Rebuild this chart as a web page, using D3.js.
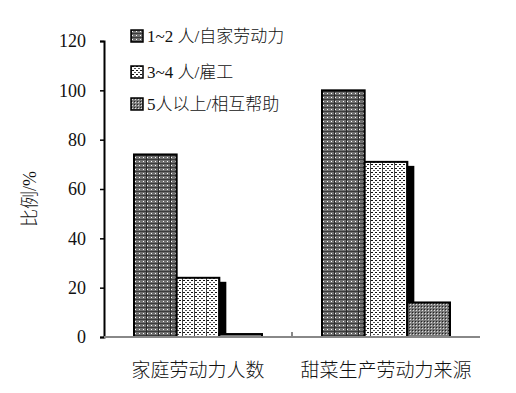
<!DOCTYPE html>
<html>
<head>
<meta charset="utf-8">
<script src="https://cdn.jsdelivr.net/npm/d3@7"></script>
<style>
  body { margin: 0; background: #fff; }
</style>
</head>
<body>
<svg width="516" height="393"></svg>
<script>
// data
var categories = ["家庭劳动力人数", "甜菜生产劳动力来源"];
var seriesNames = ["1~2 人/自家劳动力", "3~4 人/雇工", "5人以上/相互帮助"];
var seriesA = [74, 100];   // 1~2人
var seriesB = [24, 71];    // 3~4人
var seriesC = [1.2, 14];   // 5人以上
var yTicks = [0, 20, 40, 60, 80, 100, 120];

var svg = d3.select("svg");
var margin = { top: 41, left: 104, right: 36, bottom: 56 };
var W = 516, H = 393;
var serif = "'Liberation Serif', 'Noto Sans CJK SC', serif";

var x0 = d3.scaleBand().domain(categories).range([margin.left, W - margin.right]);
var groupW = 128;
var x1 = d3.scaleBand().domain(d3.range(3)).range([0, groupW]);
var y = d3.scaleLinear().domain([0, 120]).range([H - margin.bottom, margin.top]);

var rows = categories.map(function (c, i) {
  return { cat: c, vals: [seriesA[i], seriesB[i], seriesC[i]] };
});

//// patterns
var defs = svg.append("defs");
var p1 = defs.append("pattern").attr("id", "pat0").attr("patternUnits", "userSpaceOnUse")
  .attr("width", 12).attr("height", 4);
p1.append("rect").attr("width", 12).attr("height", 4).attr("fill", "#6f6f6f");
[1, 5, 9].forEach(function (d) {
  p1.append("rect").attr("x", d).attr("y", 1).attr("width", 1).attr("height", 1).attr("fill", "#fff");
});
p1.append("rect").attr("x", 0).attr("y", 3).attr("width", 12).attr("height", 1).attr("fill", "#3a3a3a");
p1.append("rect").attr("x", 0).attr("y", 0).attr("width", 1).attr("height", 4).attr("fill", "#2a2a2a");

var p2 = defs.append("pattern").attr("id", "pat1").attr("patternUnits", "userSpaceOnUse")
  .attr("width", 12).attr("height", 4);
p2.append("rect").attr("width", 12).attr("height", 4).attr("fill", "#fff");
[1, 5, 9].forEach(function (d) {
  p2.append("rect").attr("x", d).attr("y", 0).attr("width", 2).attr("height", 1).attr("fill", "#111");
});
[3, 7].forEach(function (d) {
  p2.append("rect").attr("x", d).attr("y", 2).attr("width", 2).attr("height", 1).attr("fill", "#555");
});
p2.append("rect").attr("x", 0).attr("y", 0).attr("width", 1).attr("height", 4).attr("fill", "#444");

var p3 = defs.append("pattern").attr("id", "pat2").attr("patternUnits", "userSpaceOnUse")
  .attr("width", 3).attr("height", 3);
p3.append("rect").attr("width", 3).attr("height", 3).attr("fill", "#7a7a7a");
p3.append("rect").attr("x", 1).attr("y", 1).attr("width", 1).attr("height", 1).attr("fill", "#ddd");
p3.append("rect").attr("x", 0).attr("y", 0).attr("width", 1).attr("height", 1).attr("fill", "#222");

//// bars
var groups = svg.selectAll("g.grp").data(rows).enter().append("g")
  .attr("class", "grp")
  .attr("transform", function (d) {
    return "translate(" + (x0(d.cat) + (x0.bandwidth() - groupW) / 2) + ",0)";
  });

// black shadow behind the 3~4 bars
groups.append("rect")
  .attr("x", x1(1) + 4)
  .attr("y", function (d) { return y(d.vals[1]) + 4; })
  .attr("width", x1.bandwidth() + 3)
  .attr("height", function (d) { return y(0) - y(d.vals[1]) - 4; })
  .attr("fill", "#000");

groups.selectAll("rect.bar")
  .data(function (d) { return d.vals.map(function (v, i) { return { i: i, v: v }; }); })
  .enter().append("rect")
  .attr("class", "bar")
  .attr("x", function (d) { return x1(d.i); })
  .attr("y", function (d) { return y(d.v); })
  .attr("width", x1.bandwidth())
  .attr("height", function (d) { return y(0) - y(d.v); })
  .attr("fill", function (d) { return "url(#pat" + d.i + ")"; })
  .attr("stroke", "#000")
  .attr("stroke-width", 2);

//// axes
var yAxis = d3.axisLeft(y).tickValues(yTicks).tickSize(4).tickPadding(14);
var gy = svg.append("g").attr("transform", "translate(" + margin.left + ",0)").call(yAxis)
  .attr("font-family", serif).attr("font-size", 18);
gy.select(".domain").attr("stroke", "#000").attr("stroke-width", 2);
gy.selectAll(".tick line").attr("stroke", "#000").attr("stroke-width", 1.5);
gy.selectAll(".tick text").attr("fill", "#111");

// x axis
svg.append("line")
  .attr("x1", margin.left).attr("x2", W - margin.right)
  .attr("y1", y(0)).attr("y2", y(0))
  .attr("stroke", "#888").attr("stroke-width", 2);
svg.append("line")
  .attr("x1", x0(categories[1])).attr("x2", x0(categories[1]))
  .attr("y1", y(0) - 5).attr("y2", y(0))
  .attr("stroke", "#888").attr("stroke-width", 2);

svg.selectAll("text.cat").data(categories).enter().append("text")
  .attr("class", "cat")
  .attr("x", function (d) { return x0(d) + x0.bandwidth() / 2; })
  .attr("y", 377)
  .attr("text-anchor", "middle")
  .attr("font-family", serif)
  .attr("font-weight", 300)
  .attr("font-size", 19)
  .attr("fill", "#111")
  .text(function (d) { return d; });

// y label
svg.append("text")
  .attr("transform", "translate(36,199) rotate(-90)")
  .attr("text-anchor", "middle")
  .attr("font-family", serif)
  .attr("font-weight", 300)
  .attr("font-size", 18)
  .attr("fill", "#111")
  .text("比例/%");

//// legend
var legY = [30, 66, 98];
var leg = svg.selectAll("g.leg").data(seriesNames).enter().append("g")
  .attr("class", "leg")
  .attr("transform", function (d, i) { return "translate(131," + legY[i] + ")"; });
leg.append("rect")
  .attr("width", 12).attr("height", 12)
  .attr("fill", function (d, i) { return "url(#pat" + i + ")"; })
  .attr("stroke", "#000").attr("stroke-width", 1.5);
leg.append("text")
  .attr("x", 16).attr("y", 12)
  .attr("font-family", serif)
  .attr("font-weight", 300)
  .attr("font-size", 17)
  .attr("fill", "#111")
  .text(function (d) { return d; });
</script>
</body>
</html>
